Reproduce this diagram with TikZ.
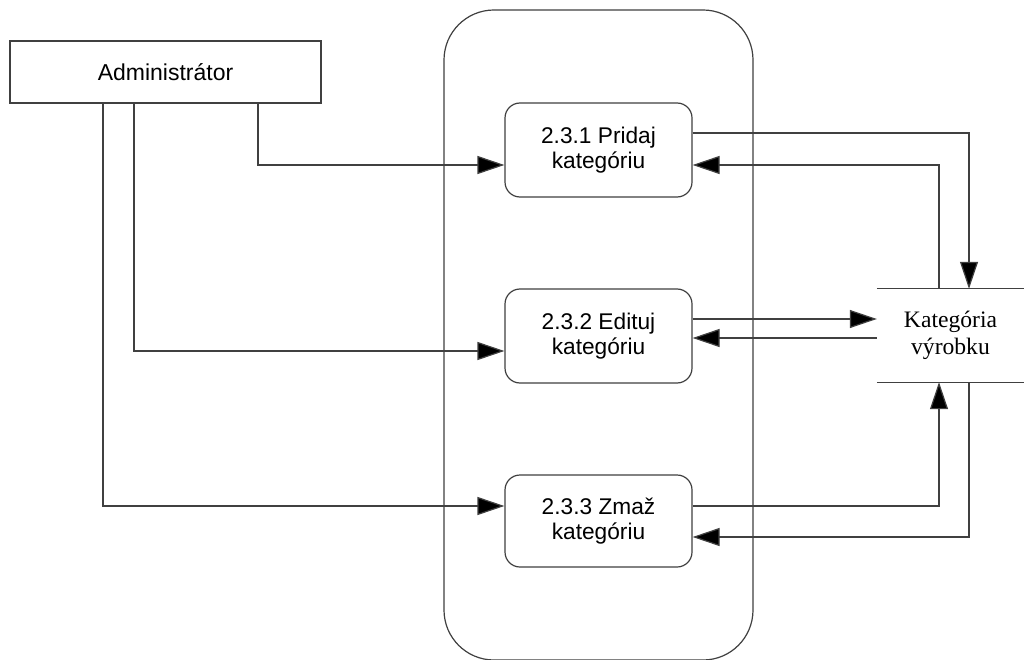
\documentclass[tikz,border=0pt]{standalone}
\usepackage{fontspec}
\usetikzlibrary{arrows.meta}
\newfontfamily\arialf{Liberation Sans}
\newfontfamily\timesf{Liberation Serif}
\begin{document}
\begin{tikzpicture}[x=1pt,y=-1pt,
  edge/.style={draw=black!75, line width=1.2pt},
  entity/.style={edge, rectangle, minimum width=311pt, minimum height=62pt, inner sep=0pt,
    font=\arialf\fontsize{23}{26}\selectfont},
  process/.style={edge, rectangle, rounded corners=15pt, minimum width=187pt, minimum height=94pt,
    inner sep=0pt, align=center, font=\arialf\fontsize{22.7}{25}\selectfont},
  storebox/.style={rectangle, minimum width=147pt, minimum height=93pt, inner sep=0pt,
    align=center, font=\timesf\fontsize{23.6}{27}\selectfont},
  flow/.style={edge, -{Triangle[length=27pt,width=18pt,fill=black]}}]
\useasboundingbox (0,0) rectangle (1024,660);
\fill[white] (0,0) rectangle (1024,660);

% system boundary
\draw[edge, rounded corners=50pt] (444,10) rectangle (753,660);

% external entity
\node[entity] (admin) at (165.5,72) {Administrátor};

% processes
\node[process] (p1) at (598.5,150) {2.3.1 Pridaj\\kategóriu};
\node[process] (p2) at (598.5,336) {2.3.2 Edituj\\kategóriu};
\node[process, minimum height=92pt] (p3) at (598.5,521) {2.3.3 Zmaž\\kategóriu};

% data store
\node[storebox] (store) at (950.5,335.5) {Kategória\\výrobku};
\draw[edge] (store.north west) -- (store.north east);
\draw[edge] (store.south west) -- (store.south east);

% flows from the administrator
\draw[flow] (admin.south -| 258,0) |- (p1.west |- 0,165);
\draw[flow] (admin.south -| 134,0) |- (p2.west |- 0,351);
\draw[flow] (admin.south -| 103,0) |- (p3.west |- 0,506);

% flows between processes and the store
\draw[flow] (p1.east |- 0,133) -| (store.north -| 969,0);
\draw[flow] (store.north -| 939,0) |- (p1.east |- 0,165);
\draw[flow] (p2.east |- 0,319) -- (store.west |- 0,319);
\draw[flow] (store.west |- 0,338) -- (p2.east |- 0,338);
\draw[flow] (p3.east |- 0,506) -| (store.south -| 939,0);
\draw[flow] (store.south -| 969,0) |- (p3.east |- 0,537);
\end{tikzpicture}
\end{document}
